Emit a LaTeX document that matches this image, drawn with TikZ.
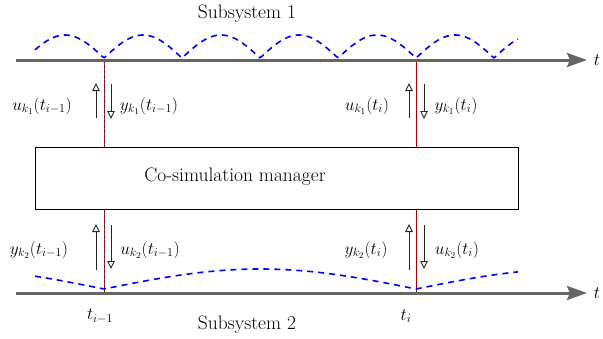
\documentclass[tikz,border=0pt]{standalone}
\usetikzlibrary{arrows.meta}
\begin{document}
\begin{tikzpicture}[x=1pt,y=-1pt,
  axis/.style={draw=black!60, line width=3pt, -{Stealth[length=20pt,width=14pt,inset=3pt]}},
  sig/.style={draw=black!85, line width=0.9pt, -{Triangle[open,length=8pt,width=7.5pt,fill=white]}},
  sync/.style={draw=red!65!black, line width=1pt},
  wave/.style={draw=blue, line width=1.6pt, dash pattern=on 6pt off 5pt},
  lbl/.style={inner sep=0pt, font=\fontsize{18}{21}\selectfont},
  ttl/.style={inner sep=0pt, font=\fontsize{19.5}{23}\selectfont},
  mgr/.style={draw=black, line width=0.8pt, fill=white}]
\useasboundingbox (0,0) rectangle (603,338);
% axes
\coordinate (a1s) at (16,60); \coordinate (a1e) at (587,60);
\coordinate (a2s) at (16,293); \coordinate (a2e) at (587,293);
% sync lines
\coordinate (s1t) at (104,60); \coordinate (s1b) at (104,293);
\coordinate (s2t) at (416,60); \coordinate (s2b) at (416,293);
\draw[draw=black!70, line width=1pt] (s1t) -- (s1b);
\draw[sync, dash pattern=on 3pt off 2pt] (s1t) -- (s1b);
\draw[sync] (s2t) -- (s2b);
% manager box
\node[mgr, minimum width=483pt, minimum height=62pt, anchor=north west] (box) at (35,147) {};
\node[ttl] (mgrtxt) at (235,177) {Co-simulation manager};
% waves
\draw[wave] plot[domain=35:518, samples=300] (\x, {58-23*abs(sin(2.307692*(\x-104)))});
\draw[wave] plot[domain=35:518, samples=200] (\x, {289-20*abs(sin(0.576923*(\x-104)))});
% axes on top
\draw[axis] (a1s) -- (a1e);
\draw[axis] (a2s) -- (a2e);
\node[lbl] (t1) at (597,60) {$t$};
\node[lbl] (t2) at (597,293) {$t$};
% titles
\node[ttl] (sub1) at (247,14) {Subsystem 1};
\node[ttl] (sub2) at (247,325) {Subsystem 2};
% time labels
\node[lbl] (tim1) at (100,316) {$t_{i-1}$};
\node[lbl] (ti) at (406,316) {$t_{i}$};
% signal arrows top
\coordinate (u1a) at (96,118); \coordinate (u1b) at (96,83);
\coordinate (y1a) at (111,84); \coordinate (y1b) at (111,119);
\coordinate (u2a) at (409,118); \coordinate (u2b) at (409,83);
\coordinate (y2a) at (424,84); \coordinate (y2b) at (424,119);
\draw[sig] (u1a) -- (u1b);
\draw[sig] (y1a) -- (y1b);
\draw[sig] (u2a) -- (u2b);
\draw[sig] (y2a) -- (y2b);
% signal arrows bottom
\coordinate (p1a) at (96,270); \coordinate (p1b) at (96,224);
\coordinate (q1a) at (111,225); \coordinate (q1b) at (111,269);
\coordinate (p2a) at (409,270); \coordinate (p2b) at (409,224);
\coordinate (q2a) at (424,225); \coordinate (q2b) at (424,269);
\draw[sig] (p1a) -- (p1b);
\draw[sig] (q1a) -- (q1b);
\draw[sig] (p2a) -- (p2b);
\draw[sig] (q2a) -- (q2b);
% labels top
\node[lbl] (lu1) at (42,106) {$u_{k_1}(t_{i-1})$};
\node[lbl] (ly1) at (149,106) {$y_{k_1}(t_{i-1})$};
\node[lbl] (lu2) at (367,106) {$u_{k_1}(t_{i})$};
\node[lbl] (ly2) at (456,106) {$y_{k_1}(t_{i})$};
% labels bottom
\node[lbl] (lp1) at (39,250) {$y_{k_2}(t_{i-1})$};
\node[lbl] (lq1) at (150,250) {$u_{k_2}(t_{i-1})$};
\node[lbl] (lp2) at (366,250) {$y_{k_2}(t_{i})$};
\node[lbl] (lq2) at (457,250) {$u_{k_2}(t_{i})$};
\end{tikzpicture}
\end{document}
